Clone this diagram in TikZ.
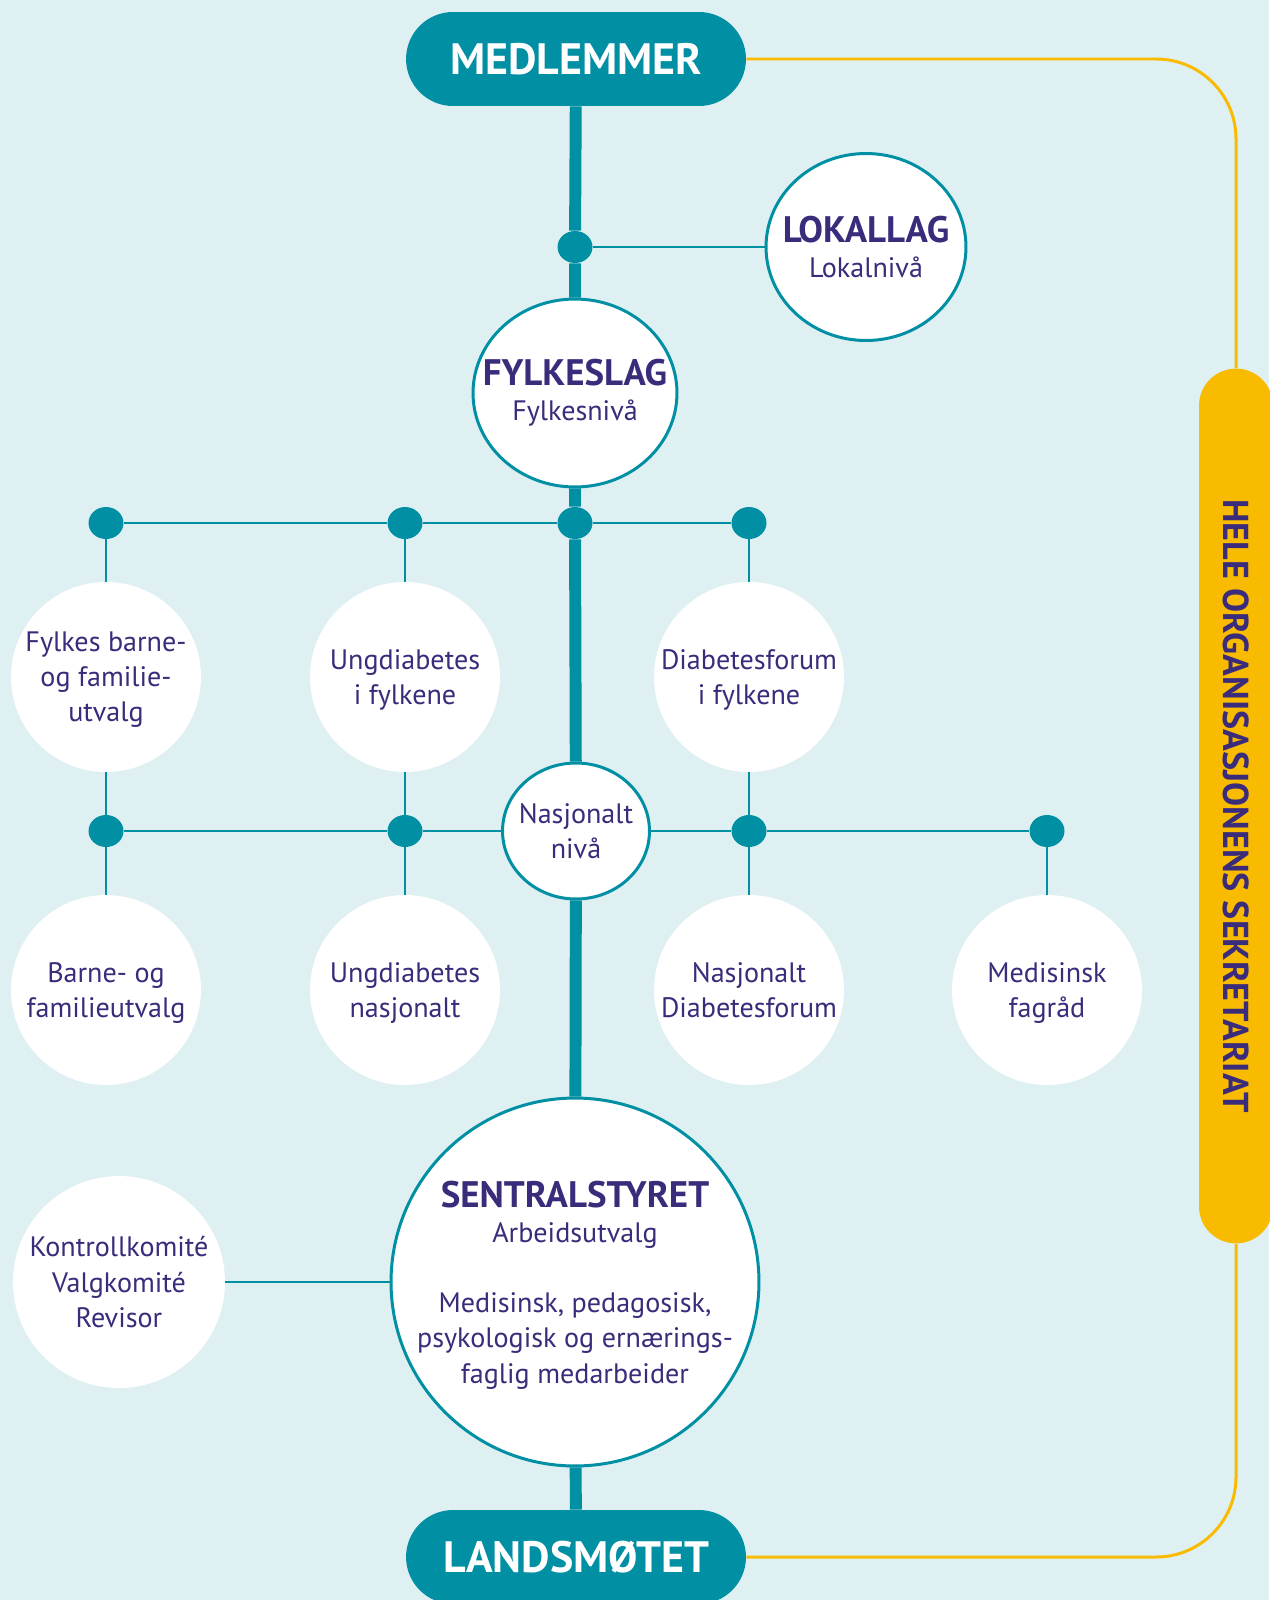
\documentclass[tikz,border=0pt]{standalone}
\usepackage{fontspec}
\setmainfont{PT Sans}
\usetikzlibrary{shapes}
\usetikzlibrary{positioning}

\definecolor{bgblue}{HTML}{DFF0F3}
\definecolor{petrol}{HTML}{008FA3}
\definecolor{lilla}{HTML}{3B2B7B}
\definecolor{gul}{HTML}{F8BB00}

\begin{document}
\begin{tikzpicture}[x=0.02cm,y=-0.02cm]
				\tikzset{pill/.style = {shape=rectangle, rounded corners=0.94cm, fill=petrol, text=white, minimum width=6.8cm, minimum height=1.88cm, font=\fontsize{25}{30}\selectfont\bfseries}}
				\tikzset{level/.style = {shape=ellipse, draw=petrol, line width=1.7pt, fill=white, text=lilla, align=center, inner sep=0pt, inner xsep=-0.5cm, font=\fontsize{16}{20}\selectfont}}
				\tikzset{unit/.style = {shape=circle, fill=white, text=lilla, align=center, minimum size=3.8cm, inner sep=0pt, text depth=0pt, font=\fontsize{16}{20}\selectfont}}
				\tikzset{dot/.style = {shape=ellipse, fill=petrol, minimum width=0.7cm, minimum height=0.64cm, inner sep=0pt}}
				\tikzset{sidebar/.style = {shape=rectangle, rounded corners=0.74cm, fill=gul, text=lilla, minimum width=17.5cm, minimum height=1.48cm, rotate=-90, font=\fontsize{20.5}{24}\selectfont\bfseries}}
				\tikzset{trunk/.style = {petrol, line width=6.8pt}}
				\tikzset{edge/.style = {petrol, line width=1.1pt}}
				\tikzset{gold/.style = {gul, line width=1.7pt, rounded corners=1.6cm}}
				\newcommand{\heading}[1]{{\fontsize{21}{25}\selectfont\bfseries #1}}
				
				\fill[bgblue] (0,0) rectangle (1269,1600);
				\useasboundingbox (0,0) rectangle (1269,1600);
				
				% vertices
				\node[pill] (medlemmer) at (576,59) {MEDLEMMER};
				\node[pill] (landsmotet) at (576,1557) {LANDSMØTET};
				\node[sidebar] (sekr) at (1236,806) {HELE ORGANISASJONENS SEKRETARIAT};
				
				\node[dot] (d0) at (575,247) {};
				\node[level, minimum width=4cm, minimum height=3.74cm] (lokallag) at (866,247) {\heading{LOKALLAG}\\Lokalnivå};
				\node[level, minimum width=4.08cm, minimum height=3.76cm] (fylkeslag) at (575,393) {\heading{FYLKESLAG}\\Fylkesnivå};
				
				\node[dot] (f1) at (106,523) {};
				\node[dot] (f2) at (405,523) {};
				\node[dot] (f0) at (575,523) {};
				\node[dot] (f3) at (749,523) {};
				
				\node[unit] (u1) at (106,677) {Fylkes barne-\\og familie-\\utvalg};
				\node[unit] (u2) at (405,677) {Ungdiabetes\\i fylkene};
				\node[unit] (u3) at (749,677) {Diabetesforum\\i fylkene};
				
				\node[dot] (n1) at (106,831) {};
				\node[dot] (n2) at (405,831) {};
				\node[level, minimum width=2.94cm, minimum height=2.72cm] (nasjonalt) at (576,831) {Nasjonalt\\nivå};
				\node[dot] (n3) at (749,831) {};
				\node[dot] (n4) at (1047,831) {};
				
				\node[unit] (b1) at (106,990) {Barne- og\\familieutvalg};
				\node[unit] (b2) at (405,990) {Ungdiabetes\\nasjonalt};
				\node[unit] (b3) at (749,990) {Nasjonalt\\Diabetesforum};
				\node[unit] (b4) at (1047,990) {Medisinsk\\fagråd};
				
				\node[level, circle, minimum size=7.36cm, text depth=0pt] (sentral) at (575,1282) {\heading{SENTRALSTYRET}\\Arbeidsutvalg\\[20pt]Medisinsk, pedagosisk,\\psykologisk og ernærings-\\faglig medarbeider};
				\node[unit, minimum size=4.24cm] (kontroll) at (119,1282) {Kontrollkomité\\Valgkomité\\Revisor};
				
				%edges
				\draw[trunk] (medlemmer) -- (d0) -- (fylkeslag) -- (f0) -- (nasjonalt) -- (sentral) -- (landsmotet);
				\draw[edge] (d0) -- (lokallag);
				\draw[edge] (f1) -- (f2) -- (f0) -- (f3);
				\draw[edge] (n1) -- (n2) -- (nasjonalt) -- (n3) -- (n4);
				\draw[edge] (f1) -- (u1) -- (n1) -- (b1);
				\draw[edge] (f2) -- (u2) -- (n2) -- (b2);
				\draw[edge] (f3) -- (u3) -- (n3) -- (b3);
				\draw[edge] (n4) -- (b4);
				\draw[edge] (kontroll) -- (sentral);
				
				\draw[gold] (medlemmer.east) -| (sekr.west);
				\draw[gold] (landsmotet.east) -| (sekr.east);
				
\end{tikzpicture}
\end{document}
